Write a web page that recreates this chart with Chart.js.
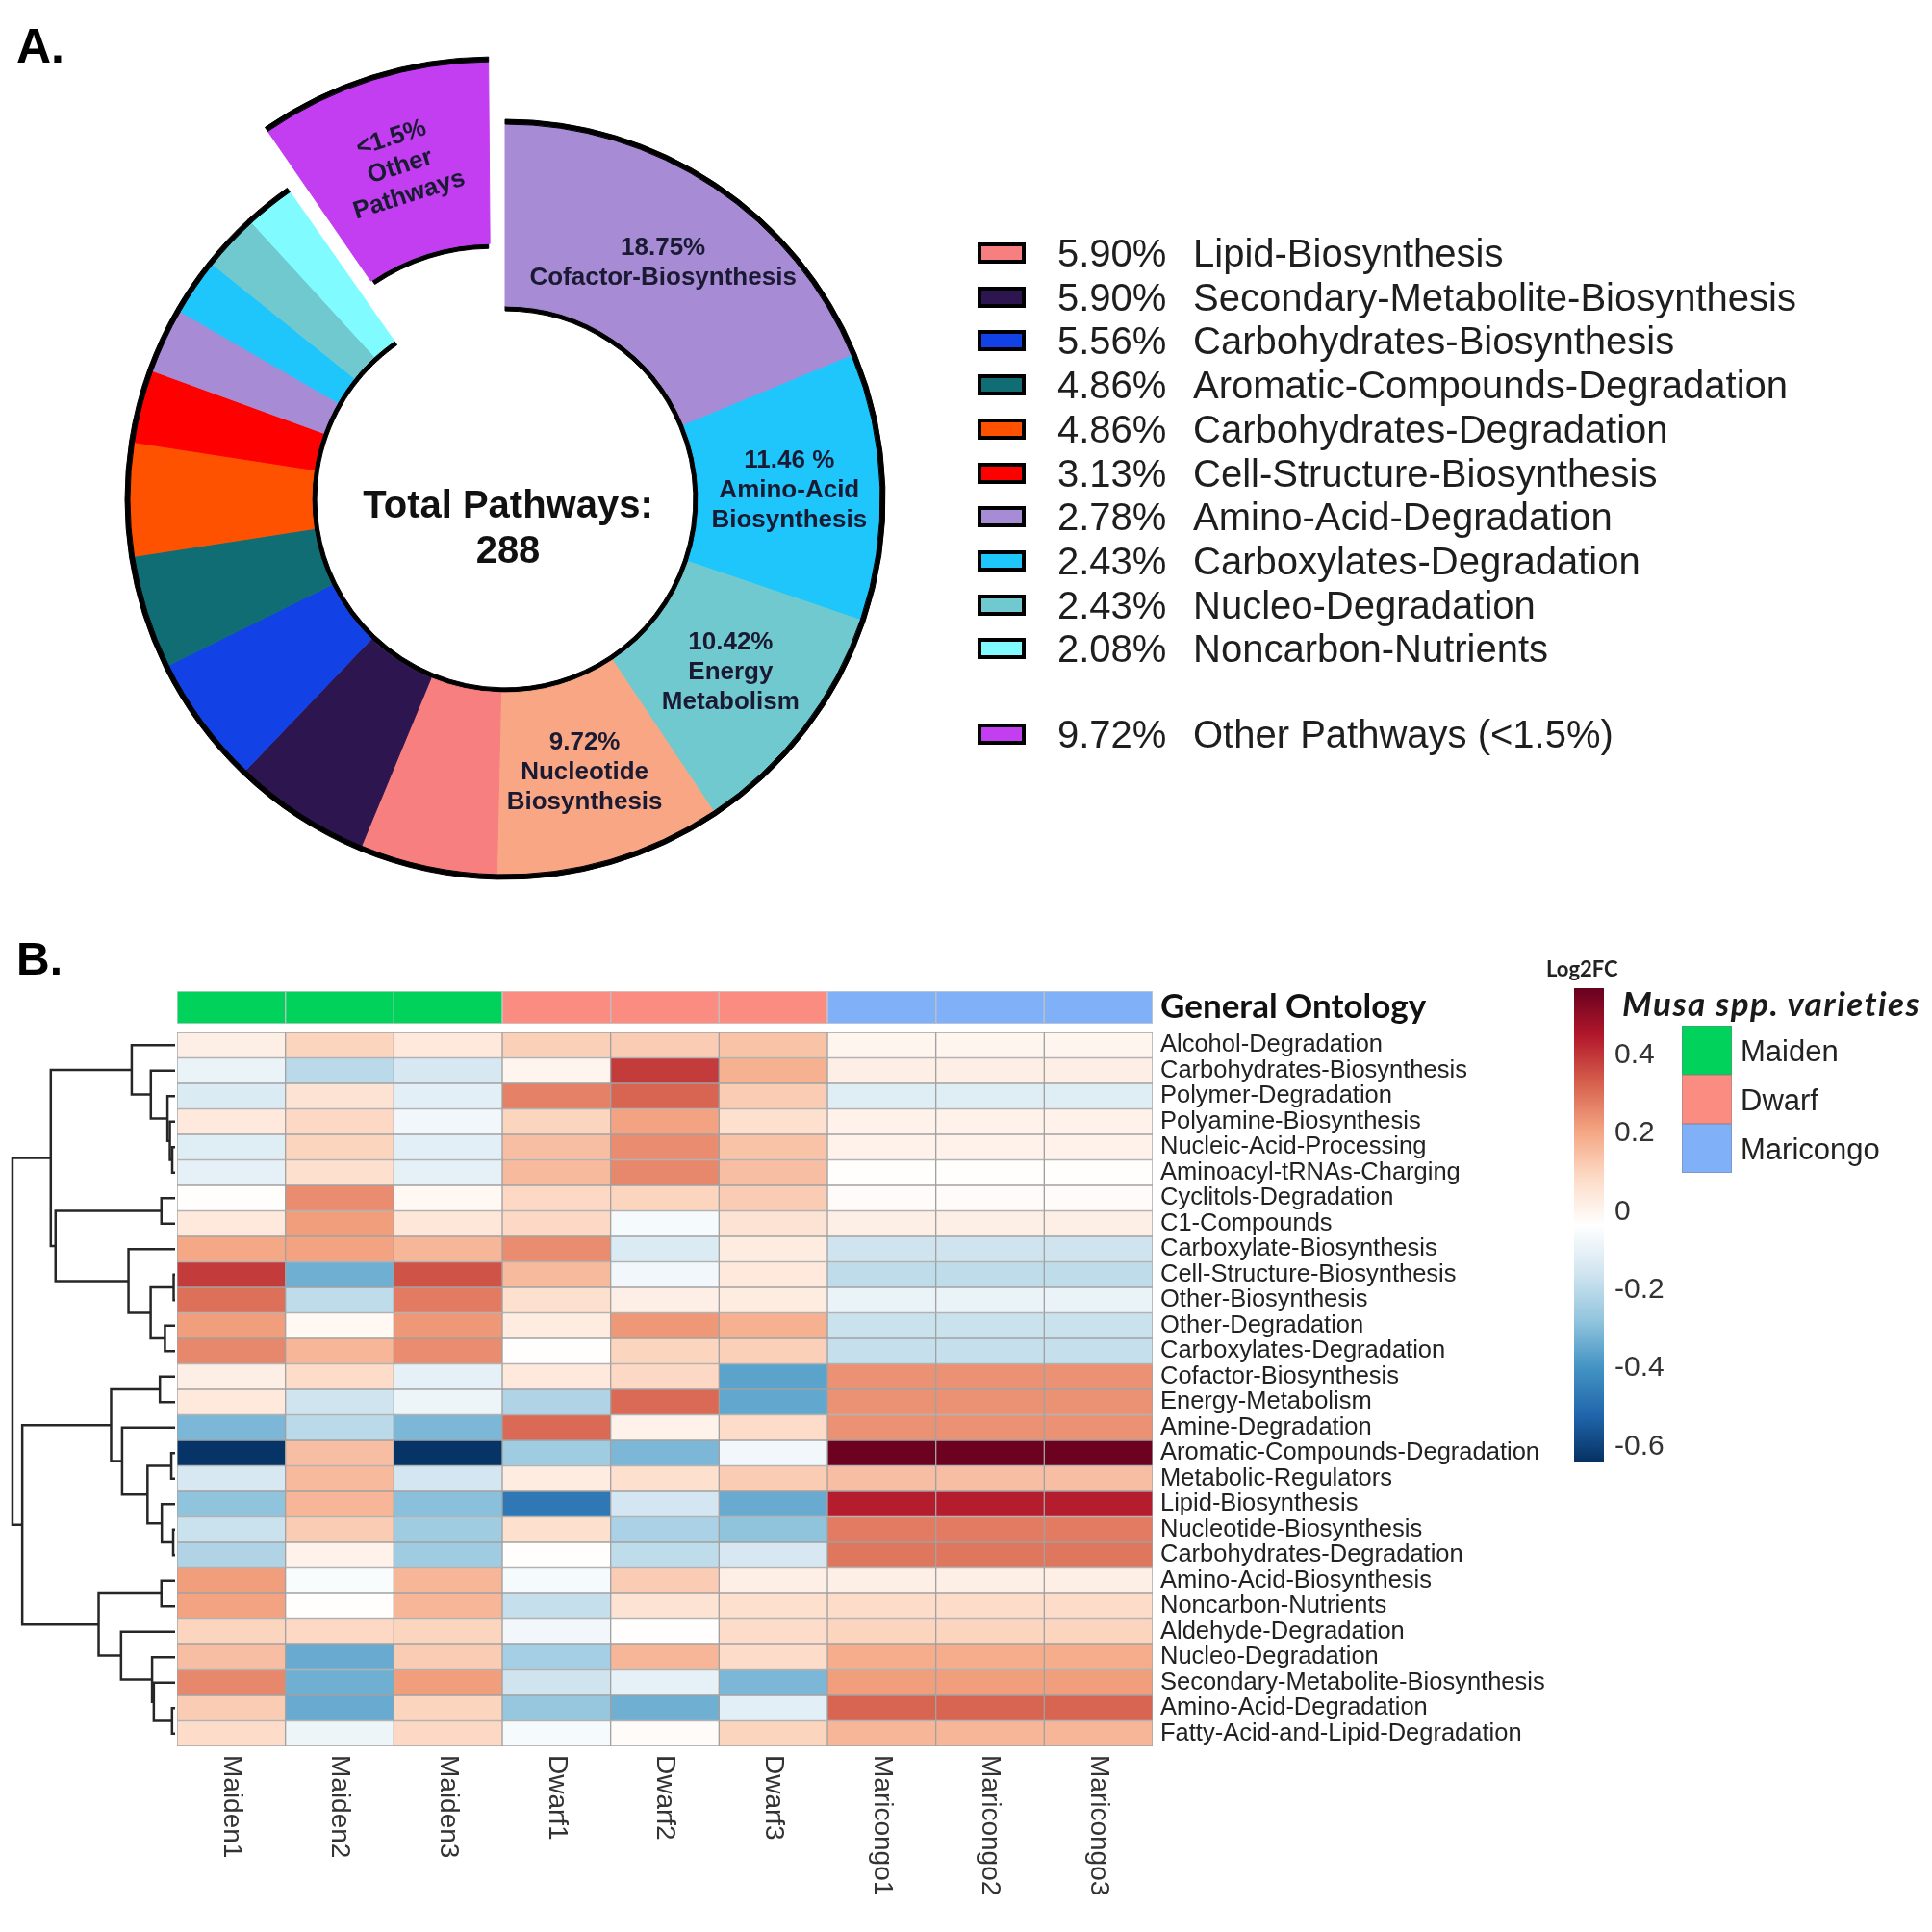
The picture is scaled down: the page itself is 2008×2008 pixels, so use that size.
<!DOCTYPE html>
<html><head><meta charset="utf-8">
<script src="https://cdn.jsdelivr.net/npm/chart.js@4.4.1/dist/chart.umd.min.js"></script>
<style>
html,body{margin:0;padding:0;background:#fff;}
#root{position:relative;width:2008px;height:2008px;overflow:hidden;background:#fff;font-family:"Liberation Sans",Arial,sans-serif;}
canvas{position:absolute;}
.t{position:absolute;white-space:nowrap;}
.box{position:absolute;box-sizing:border-box;}
</style></head><body><div id="root">
<canvas id="pie" width="1000" height="1000" style="left:25px;top:19px"></canvas>
<canvas id="dendro" width="192" height="762" style="left:0px;top:1063px"></canvas>
<canvas id="annot" width="1454" height="94" style="left:174px;top:1000px"></canvas>
<canvas id="heat" width="1454" height="957" style="left:174px;top:1043px"></canvas>
<canvas id="cbar" width="152" height="565" style="left:1600px;top:991px"></canvas>
</div>
<script>
// ---------- Panel A data ----------
const pathwayNames = ['Cofactor-Biosynthesis','Amino-Acid-Biosynthesis','Energy-Metabolism','Nucleotide-Biosynthesis','Lipid-Biosynthesis','Secondary-Metabolite-Biosynthesis','Carbohydrates-Biosynthesis','Aromatic-Compounds-Degradation','Carbohydrates-Degradation','Cell-Structure-Biosynthesis','Amino-Acid-Degradation','Carboxylates-Degradation','Nucleo-Degradation','Noncarbon-Nutrients','Other Pathways (<1.5%)'];
const pathwayPct = [18.75, 11.46, 10.42, 9.72, 5.90, 5.90, 5.56, 4.86, 4.86, 3.13, 2.78, 2.43, 2.43, 2.08, 9.72];
const pathwayColors = ['#a78bd4','#1ec6fc','#70c9cf','#f8a683','#f87f80','#2d1550','#1242e6','#106d74','#fe5200','#fe0000','#a78bd4','#1ec6fc','#70c9cf','#80fbff','#c23ef0'];
const sliceLabelLines = [['18.75%','Cofactor-Biosynthesis'],['11.46 %','Amino-Acid','Biosynthesis'],['10.42%','Energy','Metabolism'],['9.72%','Nucleotide','Biosynthesis'],null,null,null,null,null,null,null,null,null,null,['<1.5%','Other','Pathways']];
const legendFirst = 4; // legend lists slices from Lipid-Biosynthesis on
const centerLines = ['Total Pathways:', '288'];

// ---------- Panel B data ----------
const rowNames = ['Alcohol-Degradation','Carbohydrates-Biosynthesis','Polymer-Degradation','Polyamine-Biosynthesis','Nucleic-Acid-Processing','Aminoacyl-tRNAs-Charging','Cyclitols-Degradation','C1-Compounds','Carboxylate-Biosynthesis','Cell-Structure-Biosynthesis','Other-Biosynthesis','Other-Degradation','Carboxylates-Degradation','Cofactor-Biosynthesis','Energy-Metabolism','Amine-Degradation','Aromatic-Compounds-Degradation','Metabolic-Regulators','Lipid-Biosynthesis','Nucleotide-Biosynthesis','Carbohydrates-Degradation','Amino-Acid-Biosynthesis','Noncarbon-Nutrients','Aldehyde-Degradation','Nucleo-Degradation','Secondary-Metabolite-Biosynthesis','Amino-Acid-Degradation','Fatty-Acid-and-Lipid-Degradation'];
const sampleNames = ['Maiden1','Maiden2','Maiden3','Dwarf1','Dwarf2','Dwarf3','Maricongo1','Maricongo2','Maricongo3'];
const sampleGroup = ['Maiden','Maiden','Maiden','Dwarf','Dwarf','Dwarf','Maricongo','Maricongo','Maricongo'];
const groupNames = ['Maiden','Dwarf','Maricongo'];
const groupColors = ['#00d25b','#fa8c82','#80b1f8'];
const maiden1 = [0.02,-0.09,-0.13,0.04,-0.12,-0.10,-0.03,0.04,0.20,0.39,0.30,0.22,0.26,0.02,0.04,-0.31,-0.63,-0.14,-0.28,-0.17,-0.22,0.22,0.21,0.10,0.15,0.26,0.12,0.08];
const maiden2 = [0.10,-0.20,0.06,0.09,0.10,0.07,0.25,0.22,0.21,-0.33,-0.19,-0.01,0.17,0.08,-0.16,-0.20,0.15,0.16,0.17,0.12,0.01,-0.05,-0.03,0.09,-0.34,-0.33,-0.34,-0.08];
const maiden3 = [0.04,-0.14,-0.11,-0.07,-0.11,-0.10,-0.01,0.05,0.17,0.35,0.28,0.23,0.25,-0.10,-0.08,-0.31,-0.63,-0.15,-0.29,-0.25,-0.25,0.17,0.17,0.10,0.12,0.22,0.10,0.09];
const dwarf1 = [0.11,0.00,0.27,0.10,0.15,0.16,0.09,0.09,0.25,0.16,0.07,0.03,-0.03,0.04,-0.22,0.31,-0.25,0.03,-0.47,0.07,-0.03,-0.06,-0.18,-0.07,-0.24,-0.16,-0.27,-0.06];
const dwarf2 = [0.12,0.39,0.32,0.21,0.25,0.26,0.10,-0.06,-0.13,-0.07,0.02,0.23,0.10,0.09,0.31,0.01,-0.31,0.07,-0.15,-0.23,-0.19,0.12,0.06,-0.03,0.17,-0.10,-0.33,-0.02];
const dwarf3 = [0.14,0.18,0.12,0.07,0.14,0.15,0.12,0.06,0.03,0.04,0.03,0.18,0.11,-0.36,-0.35,0.08,-0.07,0.12,-0.34,-0.28,-0.14,0.02,0.07,0.08,0.08,-0.31,-0.11,0.10];
const maricongo1 = [0.00,0.02,-0.12,0.01,0.01,-0.03,-0.02,0.02,-0.16,-0.19,-0.09,-0.17,-0.18,0.24,0.24,0.24,0.56,0.15,0.44,0.28,0.29,0.02,0.08,0.10,0.19,0.22,0.32,0.17];
const maricongo2 = [0.00,0.02,-0.12,0.01,0.01,-0.03,-0.02,0.02,-0.16,-0.19,-0.09,-0.17,-0.18,0.24,0.24,0.24,0.56,0.15,0.44,0.28,0.29,0.02,0.08,0.10,0.19,0.22,0.32,0.17];
const maricongo3 = [0.00,0.02,-0.12,0.01,0.01,-0.03,-0.02,0.02,-0.16,-0.19,-0.09,-0.17,-0.18,0.24,0.24,0.24,0.56,0.15,0.44,0.28,0.29,0.02,0.08,0.10,0.19,0.22,0.32,0.17];
// row dendrogram merges: [left, right, height]; negative = row (1-based), positive = earlier merge (1-based)
const dendroMerges = [
  [-5,-6,3],[-4,1,5.5],[-3,2,8],[-2,3,25.5],[-1,4,45.6],
  [-7,-8,14.4],[-10,-11,1.5],[-12,-13,10.7],[7,8,25.7],[-9,9,49],[6,10,125.7],[5,11,130.7],
  [-14,-15,16],[-17,-18,4],[-20,-21,2],[-19,15,14],[14,16,29],[-16,17,55.7],[13,18,67.3],
  [-22,-23,14.4],[-27,-28,3.2],[-26,21,22.4],[-25,22,24.2],[-24,23,56.8],[20,24,80.4],
  [19,25,160.7],[12,26,171]
];
const colorStops = ['#053061','#2166ac','#4393c3','#92c5de','#d1e5f0','#ffffff','#fddbc7','#f4a582','#d6604d','#b2182b','#67001f'];
const colorMin = -0.64, colorMax = 0.57;
const colorTicks = [-0.6,-0.4,-0.2,0,0.2,0.4];

// ---------- helpers ----------
const root = document.getElementById('root');
function addText(txt, left, cy, font, color, extra){
  const d = document.createElement('div'); d.className='t'; d.textContent = txt;
  const m = /(\d+(\.\d+)?)px/.exec(font); const fs = m ? parseFloat(m[1]) : 20; const h = Math.round(fs*1.4);
  d.style.cssText = `left:${left}px;top:${cy - h/2}px;height:${h}px;font:${font};color:${color};` + (extra||'');
  d.style.lineHeight = h + 'px';
  root.appendChild(d); return d;
}
function addBox(left, top, w, h, bg, border){
  const d = document.createElement('div'); d.className='box';
  d.style.cssText = `left:${left}px;top:${top}px;width:${w}px;height:${h}px;background:${bg};border:${border};`;
  root.appendChild(d);
}
function hexRgb(h){ return [parseInt(h.slice(1,3),16),parseInt(h.slice(3,5),16),parseInt(h.slice(5,7),16)]; }
function valueToColor(v){
  let t = (v - colorMin)/(colorMax - colorMin); t = Math.max(0, Math.min(1, t));
  const p = t*(colorStops.length-1); const i = Math.min(Math.floor(p), colorStops.length-2); const f = p - i;
  const a = hexRgb(colorStops[i]), b = hexRgb(colorStops[i+1]);
  return `rgb(${Math.round(a[0]+(b[0]-a[0])*f)},${Math.round(a[1]+(b[1]-a[1])*f)},${Math.round(a[2]+(b[2]-a[2])*f)})`;
}
Chart.defaults.font.family = '"Liberation Sans", Arial, sans-serif';
const common = {responsive:false, animation:false, events:[], devicePixelRatio:1,
  plugins:{legend:{display:false}, tooltip:{enabled:false}}};

// ---------- panel labels ----------
addText('A.', 17, 48, 'bold 50px "Liberation Sans", Arial, sans-serif', '#000');
addText('B.', 17, 996, 'bold 48px "Liberation Sans", Arial, sans-serif', '#000');

// ---------- Panel A: doughnut ----------
const offsets = pathwayPct.map((v,i)=> i === pathwayPct.length-1 ? 188 : 0);
const sliceLabels = {
  id:'sliceLabels',
  afterDatasetsDraw(chart){
    const ctx = chart.ctx; const meta = chart.getDatasetMeta(1);
    meta.data.forEach((arc, i) => {
      const lines = sliceLabelLines[i]; if (!lines) return;
      const p = arc.getProps(['x','y','startAngle','endAngle','innerRadius','outerRadius']);
      const off = (arc.options.offset || 0)/4;
      const circ = p.endAngle - p.startAngle;
      const rOff = off*(1 - Math.sin(Math.min(Math.PI, circ)));
      const mid = (p.startAngle + p.endAngle)/2;
      const r = off + rOff + (p.innerRadius + p.outerRadius)/2;
      ctx.save();
      ctx.translate(p.x + Math.cos(mid)*r, p.y + Math.sin(mid)*r);
      if (off > 0) ctx.rotate(mid + Math.PI/2);
      ctx.font = 'bold 26px "Liberation Sans", Arial, sans-serif';
      ctx.fillStyle = '#1a1a33'; ctx.textAlign = 'center'; ctx.textBaseline = 'middle';
      lines.forEach((t,k) => ctx.fillText(t, 0, (k - (lines.length-1)/2)*31));
      ctx.restore();
    });
    const c = meta.data[0];
    ctx.save();
    ctx.font = 'bold 40px "Liberation Sans", Arial, sans-serif';
    ctx.fillStyle = '#111'; ctx.textAlign = 'center'; ctx.textBaseline = 'middle';
    centerLines.forEach((t,k) => ctx.fillText(t, c.x + 3, c.y + 8 + k*47));
    ctx.restore();
  }
};
new Chart(document.getElementById('pie'), {
  type:'doughnut',
  data:{labels: pathwayNames, datasets:[
    {data: pathwayPct, backgroundColor:'#000', borderColor:'#000', borderWidth:1, offset: offsets, weight:5},
    {data: pathwayPct, backgroundColor: pathwayColors, borderColor: pathwayColors, borderWidth:1, offset: offsets, weight:189},
    {data: pathwayPct, backgroundColor:'#000', borderColor:'#000', borderWidth:1, offset: offsets, weight:5}
  ]},
  options: Object.assign({}, common, {radius:395, cutout:'49.6%', layout:{padding:0}}),
  plugins:[sliceLabels]
});

// legend of panel A
const legendFont = '40px "Liberation Sans", Arial, sans-serif';
for (let i = legendFirst; i < pathwayNames.length; i++) {
  const k = i - legendFirst;
  const cy = (i === pathwayNames.length-1) ? 763 : 263 + 45.7*k;
  addBox(1016, cy - 11, 50, 22, pathwayColors[i], '4px solid #000');
  addText(pathwayPct[i].toFixed(2) + '%', 1099, cy, legendFont, '#1e1e1e');
  addText(pathwayNames[i], 1240, cy, legendFont, '#1e1e1e');
}

// ---------- Panel B: dendrogram ----------
const nodeInfo = []; const dendroSets = [];
function nodePos(ref){ return ref < 0 ? {h:0, y:-ref - 0.5} : nodeInfo[ref-1]; }
dendroMerges.forEach(([a,b,h]) => {
  const A = nodePos(a), B = nodePos(b);
  nodeInfo.push({h:h, y:(A.y + B.y)/2});
  dendroSets.push({data:[{x:A.h,y:A.y},{x:h,y:A.y},{x:h,y:B.y},{x:B.h,y:B.y}],
    showLine:true, borderColor:'#262626', borderWidth:2.5, pointRadius:0, fill:false, tension:0, clip:false});
});
new Chart(document.getElementById('dendro'), {
  type:'scatter',
  data:{datasets: dendroSets},
  options: Object.assign({}, common, {layout:{padding:10},
    scales:{x:{type:'linear', reverse:true, min:0, max:174, display:false},
            y:{type:'linear', reverse:true, min:0, max:rowNames.length, display:false}}})
});

// ---------- Panel B: annotation bar ----------
new Chart(document.getElementById('annot'), {
  type:'bar',
  data:{labels:['General Ontology'], datasets: sampleNames.map((s,j) => ({label:s, data:[1],
    backgroundColor: groupColors[groupNames.indexOf(sampleGroup[j])], borderColor:'rgba(110,110,110,0.35)', borderWidth:1, borderSkipped:false,
    barPercentage:1, categoryPercentage:1}))},
  options: Object.assign({}, common, {indexAxis:'y', layout:{padding:{left:10, right:10, top:30, bottom:30}},
    scales:{x:{stacked:true, min:0, max:sampleNames.length, display:false},
            y:{stacked:true, position:'right', grid:{display:false, drawTicks:false}, border:{display:false},
               ticks:{padding:8, color:'#111', font:{family:'Lato, "Liberation Sans", sans-serif', weight:'bold', size:35}},
               afterFit(s){ s.width = 420; }}}})
});

// ---------- Panel B: heatmap ----------
const sampleCols = [maiden1, maiden2, maiden3, dwarf1, dwarf2, dwarf3, maricongo1, maricongo2, maricongo3];
const colLabels = {
  id:'colLabels',
  afterDraw(chart){
    const ctx = chart.ctx, xs = chart.scales.x, top = chart.chartArea.bottom + 9;
    sampleNames.forEach((n,j) => {
      ctx.save(); ctx.translate(xs.getPixelForValue(j + 0.5), top); ctx.rotate(Math.PI/2);
      ctx.font = '28px "Liberation Sans", Arial, sans-serif'; ctx.fillStyle = '#333';
      ctx.textAlign = 'left'; ctx.textBaseline = 'middle'; ctx.fillText(n, 0, 0); ctx.restore();
    });
  }
};
new Chart(document.getElementById('heat'), {
  type:'bar',
  data:{labels: rowNames, datasets: sampleCols.map((col,j) => ({label: sampleNames[j], data: col.map(() => 1),
    backgroundColor: col.map(valueToColor), borderColor:'#a2a2a2', borderWidth:1, borderSkipped:false,
    barPercentage:1, categoryPercentage:1}))},
  options: Object.assign({}, common, {indexAxis:'y', layout:{padding:{left:10, right:10, top:30, bottom:185}},
    scales:{x:{stacked:true, min:0, max:sampleNames.length, display:false},
            y:{stacked:true, position:'right', grid:{display:false, drawTicks:false}, border:{display:false},
               ticks:{padding:8, color:'#222', font:{size:25.5}, autoSkip:false},
               afterFit(s){ s.width = 420; }}}}),
  plugins:[colLabels]
});

// ---------- Panel B: colour scale ----------
new Chart(document.getElementById('cbar'), {
  type:'bar',
  data:{labels:['Log2FC'], datasets:[{data:[[colorMin, colorMax]], borderWidth:0, barPercentage:1, categoryPercentage:1,
    backgroundColor(ctx){
      const ca = ctx.chart.chartArea; if (!ca) return '#fff';
      const g = ctx.chart.ctx.createLinearGradient(0, ca.bottom, 0, ca.top);
      colorStops.forEach((c,i) => g.addColorStop(i/(colorStops.length-1), c));
      return g;
    }}]},
  options: Object.assign({}, common, {layout:{padding:{left:36, right:10, top:36, bottom:36}},
    scales:{x:{display:false},
            y:{type:'linear', position:'right', min:colorMin, max:colorMax, grid:{display:false, drawTicks:false}, border:{display:false},
               afterBuildTicks(s){ s.ticks = colorTicks.map(v => ({value:v})); },
               ticks:{padding:11, color:'#333', font:{size:30}, callback:(v) => (Math.abs(v) < 1e-9 ? '0' : (Math.round(v*10)/10).toFixed(1))},
               afterFit(s){ s.width = 75; }}}})
});
addText('Log2FC', 1607, 1006, 'bold 22px Lato, "Liberation Sans", sans-serif', '#222');

// group legend
addText('Musa spp. varieties', 1686, 1042, 'italic bold 35px Lato, "Liberation Sans", sans-serif', '#1a1a1a', 'letter-spacing:1.5px;');
groupNames.forEach((g,i) => {
  addBox(1748, 1066 + i*51, 52, 51, groupColors[i], '1px solid rgba(120,120,120,0.4)');
  addText(g, 1809, 1092 + i*51, '31px "Liberation Sans", Arial, sans-serif', '#222');
});
</script></body></html>
